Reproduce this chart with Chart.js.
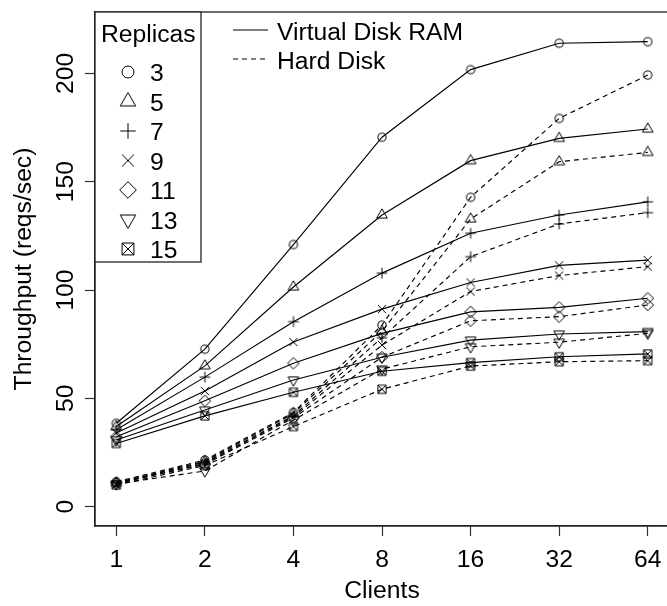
<!DOCTYPE html>
<html lang="en">
<head>
<meta charset="UTF-8">
<title>Throughput vs Clients</title>
<script src="https://cdn.jsdelivr.net/npm/chart.js"></script>
<style>
  html, body { margin: 0; padding: 0; background: #fff; overflow: hidden; }
</style>
</head>
<body>
<canvas id="chart" width="680" height="606"></canvas>
<script>
// x categories (clients, plotted on a log2 axis)
const clients = [1, 2, 4, 8, 16, 32, 64];
const replicas = [3, 5, 7, 9, 11, 13, 15];
const yTicks = [0, 50, 100, 150, 200];

// Virtual Disk RAM (solid lines)
const ram3  = [38.5, 72.7, 121.0, 170.5, 201.7, 213.9, 214.6];
const ram5  = [37.0, 65.0, 101.4, 134.6, 159.7, 170.0, 174.3];
const ram7  = [35.5, 59.8, 85.4, 107.8, 126.2, 134.6, 140.7];
const ram9  = [34.0, 53.4, 76.0, 91.2, 103.5, 111.4, 113.8];
const ram11 = [32.3, 48.9, 66.2, 80.0, 89.9, 92.0, 96.2];
const ram13 = [30.8, 44.6, 58.5, 69.0, 76.9, 79.7, 80.8];
const ram15 = [29.2, 41.9, 52.8, 62.5, 66.5, 69.2, 70.5];

// Hard Disk (dashed lines)
const disk3  = [11.5, 21.5, 43.5, 83.8, 142.8, 179.2, 199.2];
const disk5  = [11.0, 21.0, 43.0, 81.0, 132.8, 159.2, 163.5];
const disk7  = [11.0, 20.5, 42.0, 78.0, 115.4, 130.5, 135.7];
const disk9  = [10.5, 20.0, 41.5, 74.6, 99.3, 106.7, 110.8];
const disk11 = [11.0, 19.5, 41.0, 69.0, 85.8, 87.7, 93.1];
const disk13 = [10.5, 16.5, 40.0, 63.5, 73.8, 75.9, 80.0];
const disk15 = [10.0, 19.0, 37.0, 54.2, 64.9, 66.9, 67.4];

const ramSeries = [ram3, ram5, ram7, ram9, ram11, ram13, ram15];
const diskSeries = [disk3, disk5, disk7, disk9, disk11, disk13, disk15];

const FAMILY = '"Liberation Sans", Arial, sans-serif';
const FONT = '24.7px ' + FAMILY;

// R style plotting symbols: pch 1,2,3,4,5,6,7
function makeMarker(kind, k) {
  const c = document.createElement('canvas');
  c.width = 24; c.height = 24;
  const g = c.getContext('2d');
  const m = 12, s = 4.1 * k;
  g.strokeStyle = '#000';
  g.lineWidth = 1;
  g.beginPath();
  if (kind === 'circle') {
    g.arc(m, m, s, 0, Math.PI * 2);
  } else if (kind === 'up' || kind === 'down') {
    const d = kind === 'up' ? 1 : -1;
    g.moveTo(m, m - d * 1.5 * s);
    g.lineTo(m + 1.3 * s, m + d * 0.75 * s);
    g.lineTo(m - 1.3 * s, m + d * 0.75 * s);
    g.closePath();
  } else if (kind === 'plus') {
    const p = 1.3 * s;
    g.moveTo(m - p, m); g.lineTo(m + p, m);
    g.moveTo(m, m - p); g.lineTo(m, m + p);
  } else if (kind === 'cross') {
    g.moveTo(m - s, m - s); g.lineTo(m + s, m + s);
    g.moveTo(m + s, m - s); g.lineTo(m - s, m + s);
  } else if (kind === 'diamond') {
    const p = 1.4 * s;
    g.moveTo(m, m - p); g.lineTo(m + p, m); g.lineTo(m, m + p); g.lineTo(m - p, m);
    g.closePath();
  } else if (kind === 'boxx') {
    g.rect(m - s, m - s, 2 * s, 2 * s);
    g.moveTo(m - s, m - s); g.lineTo(m + s, m + s);
    g.moveTo(m + s, m - s); g.lineTo(m - s, m + s);
  }
  g.stroke();
  return c;
}
const shapes = ['circle', 'up', 'plus', 'cross', 'diamond', 'down', 'boxx'];
const markers = shapes.map(sh => makeMarker(sh, 1));
const legendMarkers = shapes.map(sh => makeMarker(sh, 1.45));

const xVals = clients.map(c => Math.log2(c));
const toPoints = arr => arr.map((v, i) => ({ x: xVals[i], y: v }));

const datasets = [];
replicas.forEach((r, i) => {
  datasets.push({
    label: 'RAM ' + r,
    data: toPoints(ramSeries[i]),
    borderColor: '#000',
    borderWidth: 1.15,
    pointStyle: markers[i],
    pointRadius: 5,
    tension: 0,
    fill: false
  });
  datasets.push({
    label: 'Disk ' + r,
    data: toPoints(diskSeries[i]),
    borderColor: '#000',
    borderWidth: 1.15,
    borderDash: [5, 4],
    pointStyle: markers[i],
    pointRadius: 5,
    tension: 0,
    fill: false
  });
});

// box, rotated y labels, axis titles and both legends
const decor = {
  id: 'decor',
  afterDraw(chart) {
    const { ctx, chartArea: a, scales } = chart;
    ctx.save();
    ctx.strokeStyle = '#222';
    ctx.lineWidth = 1.3;
    ctx.strokeRect(a.left, a.top, a.right - a.left, a.bottom - a.top);

    ctx.fillStyle = '#000';
    ctx.font = FONT;
    ctx.textAlign = 'center';
    ctx.textBaseline = 'alphabetic';
    scales.y.ticks.forEach(t => {
      const py = scales.y.getPixelForValue(t.value);
      ctx.save();
      ctx.translate(73, py);
      ctx.rotate(-Math.PI / 2);
      ctx.fillText(String(t.value), 0, 0);
      ctx.restore();
    });
    ctx.save();
    ctx.translate(31, (a.top + a.bottom) / 2);
    ctx.rotate(-Math.PI / 2);
    ctx.fillText('Throughput (reqs/sec)', 0, 0);
    ctx.restore();
    ctx.fillText('Clients', (a.left + a.right) / 2, 598);

    // Replicas legend
    ctx.fillStyle = '#fff';
    ctx.fillRect(a.left, a.top, 106, 250);
    ctx.strokeRect(a.left, a.top, 106, 250);
    ctx.fillStyle = '#000';
    ctx.textAlign = 'left';
    ctx.fillText('Replicas', 101, 42);
    replicas.forEach((r, i) => {
      const cy = 72 + i * 29.5;
      ctx.drawImage(legendMarkers[i], 128 - 12, cy - 12);
      ctx.fillText(String(r), 150, cy + 9);
    });

    // line type legend
    ctx.lineWidth = 1.15;
    ctx.strokeStyle = '#000';
    ctx.beginPath();
    ctx.moveTo(233, 30); ctx.lineTo(268, 30);
    ctx.stroke();
    ctx.setLineDash([5, 4]);
    ctx.beginPath();
    ctx.moveTo(233, 59); ctx.lineTo(268, 59);
    ctx.stroke();
    ctx.setLineDash([]);
    ctx.fillText('Virtual Disk RAM', 277, 40);
    ctx.fillText('Hard Disk', 277, 69);
    ctx.restore();
  }
};

new Chart(document.getElementById('chart'), {
  type: 'line',
  data: { datasets },
  options: {
    responsive: false,
    animation: false,
    devicePixelRatio: 1,
    layout: { padding: { left: 0, top: 12, right: 11, bottom: 0 } },
    plugins: { legend: { display: false }, tooltip: { enabled: false } },
    scales: {
      x: {
        type: 'linear',
        min: -0.24,
        max: 6.24,
        afterFit(s) { s.height = 80; s.paddingLeft = 0; s.paddingRight = 0; },
        ticks: {
          stepSize: 1,
          includeBounds: false,
          autoSkip: false,
          maxRotation: 0,
          padding: 9,
          color: '#000',
          font: { family: FAMILY, size: 24.7 },
          callback: v => clients[Math.round(v)]
        },
        grid: { drawOnChartArea: false, tickLength: 10, color: '#333', tickWidth: 1.2 },
        border: { display: true, color: '#222', width: 1.3 }
      },
      y: {
        type: 'linear',
        min: -8.9,
        max: 228.3,
        afterFit(s) { s.width = 95; s.paddingTop = 0; s.paddingBottom = 0; },
        ticks: { stepSize: 50, includeBounds: false, display: false },
        grid: { drawOnChartArea: false, tickLength: 10, color: '#333', tickWidth: 1.2 },
        border: { display: true, color: '#222', width: 1.3 }
      }
    }
  },
  plugins: [decor]
});
</script>
</body>
</html>
